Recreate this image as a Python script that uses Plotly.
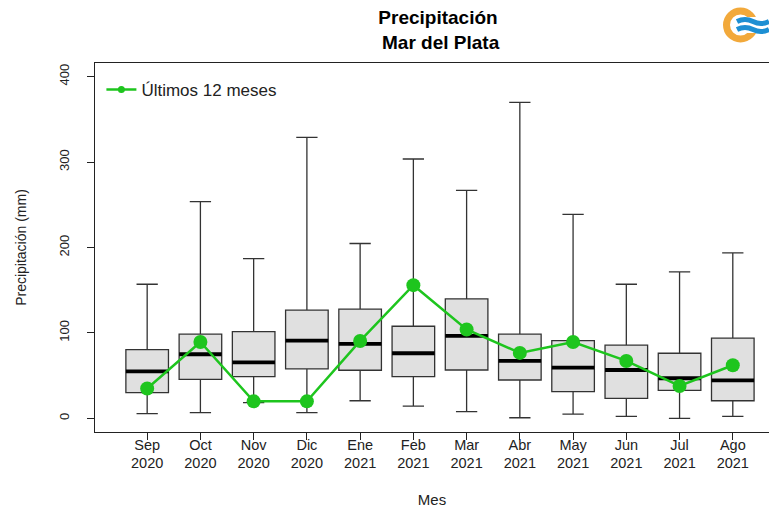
import plotly.graph_objects as go

months = ["Sep", "Oct", "Nov", "Dic", "Ene", "Feb", "Mar", "Abr", "May", "Jun", "Jul", "Ago"]
years = ["2020", "2020", "2020", "2020", "2021", "2021", "2021", "2021", "2021", "2021", "2021", "2021"]

lower = [5.4, 6.6, 18.3, 6.6, 20.6, 14.4, 7.8, 0.7, 5.0, 2.3, 0.0, 2.3]
q1 = [30.0, 45.7, 48.8, 57.8, 56.3, 48.8, 56.6, 44.9, 31.2, 23.4, 32.8, 20.6]
median = [55.0, 75.0, 65.6, 91.0, 87.1, 76.2, 96.5, 67.2, 59.3, 56.6, 46.9, 44.5]
q3 = [80.4, 98.5, 101.5, 126.6, 127.8, 107.8, 139.9, 98.5, 91.0, 85.6, 76.2, 93.8]
upper = [157.0, 253.6, 187.0, 329.0, 204.7, 303.6, 266.8, 370.0, 238.7, 157.0, 171.5, 193.8]

last12 = [35.0, 89.4, 19.9, 19.9, 90.6, 155.9, 104.0, 76.6, 89.4, 67.2, 37.9, 62.1]

y_ticks = [0, 100, 200, 300, 400]

pos = list(range(1, len(months) + 1))
ticktext = [f"{m}<br>{y}" for m, y in zip(months, years)]

FONT = "Liberation Sans, Arial, sans-serif"
W, H = 769, 509
L, R, T, B = 95, 0, 63, 77
PW, PH = W - L - R, H - T - B
GREEN = "#1ec51e"
INK = "#222222"


def px(x):
    return (x - L) / PW


def py(y):
    return (H - B - y) / PH


fig = go.Figure()

fig.add_trace(go.Box(
    x=pos, q1=q1, median=median, q3=q3, lowerfence=lower, upperfence=upper,
    width=0.8, whiskerwidth=0.5,
    fillcolor="#e0e0e0", line=dict(color="#333333", width=1.3),
    showlegend=False, hoverinfo="skip", boxpoints=False,
))

mx, my = [], []
for p, m in zip(pos, median):
    mx += [p - 0.4, p + 0.4, None]
    my += [m, m, None]
fig.add_trace(go.Scatter(x=mx, y=my, mode="lines", line=dict(color="black", width=3.8),
                         showlegend=False, hoverinfo="skip"))

fig.add_trace(go.Scatter(x=pos, y=last12, mode="lines+markers",
                         line=dict(color=GREEN, width=2.5),
                         marker=dict(color=GREEN, size=14),
                         showlegend=False))
fig.add_trace(go.Scatter(x=[None], y=[None], mode="lines+markers",
                         line=dict(color=GREEN, width=2.5),
                         marker=dict(color=GREEN, size=7),
                         name="Últimos 12 meses"))

shapes = []
# logo: orange ring
cx, cy, r = 740.5, 25, 14
shapes.append(dict(type="circle", xref="paper", yref="paper",
                   x0=px(cx - r), x1=px(cx + r), y0=py(cy + r), y1=py(cy - r),
                   line=dict(color="#f2a93b", width=7), fillcolor="rgba(0,0,0,0)"))
# white cut on right side
shapes.append(dict(type="rect", xref="paper", yref="paper",
                   x0=px(745), x1=px(769), y0=py(33), y1=py(17),
                   line=dict(width=0), fillcolor="white"))


def wave(y0):
    pts = [(737, y0), (745, y0 - 4), (753, y0), (761, y0 + 4), (769, y0)]
    (x1, y1), (xc1, yc1), (x2, y2), (xc2, yc2), (x3, y3) = pts
    return (f"M {px(x1)},{py(y1)} Q {px(xc1)},{py(yc1)} {px(x2)},{py(y2)} "
            f"Q {px(xc2)},{py(yc2)} {px(x3)},{py(y3)}")


for yy in (21.5, 29.5):
    shapes.append(dict(type="path", xref="paper", yref="paper", path=wave(yy),
                       line=dict(color="#1d8fd3", width=5)))

fig.update_layout(
    width=W, height=H,
    margin=dict(l=L, r=R, t=T, b=B, autoexpand=False),
    paper_bgcolor="white", plot_bgcolor="white",
    font=dict(family=FONT, color=INK, size=13),
    title=dict(text="<b>Precipitación</b><br><b> Mar del Plata</b>",
               x=438 / W, xanchor="center", y=1 - 24 / H, yanchor="top",
               font=dict(size=19, color="black", family=FONT)),
    xaxis=dict(range=[0.02, 12.68], tickmode="array", tickvals=pos, ticktext=ticktext,
               showline=True, linecolor=INK, linewidth=1.2, mirror=True,
               ticks="outside", ticklen=7, tickcolor=INK, showgrid=False,
               zeroline=False, tickfont=dict(size=14.5, color=INK),
               ticklabelstandoff=-8,
               title=dict(text="Mes", font=dict(size=15, color=INK), standoff=24)),
    yaxis=dict(range=[-16, 416], tickmode="array", tickvals=y_ticks,
               showline=True, linecolor=INK, linewidth=1.2, mirror=False,
               ticks="outside", ticklen=7, tickcolor=INK, showgrid=False,
               zeroline=False, tickangle=-90, tickfont=dict(size=13, color=INK),
               ticklabelstandoff=13,
               title=dict(text="Precipitación (mm)", font=dict(size=14, color=INK),
                          standoff=26)),
    legend=dict(x=0.0095, y=0.9756, xanchor="left", yanchor="top",
                bgcolor="rgba(0,0,0,0)", font=dict(size=17, color=INK)),
    shapes=shapes,
)

fig.write_html(
    "out.html",
    config={"displayModeBar": False},
    post_script="document.body.style.margin='0px';document.body.style.overflow='hidden';",
)
